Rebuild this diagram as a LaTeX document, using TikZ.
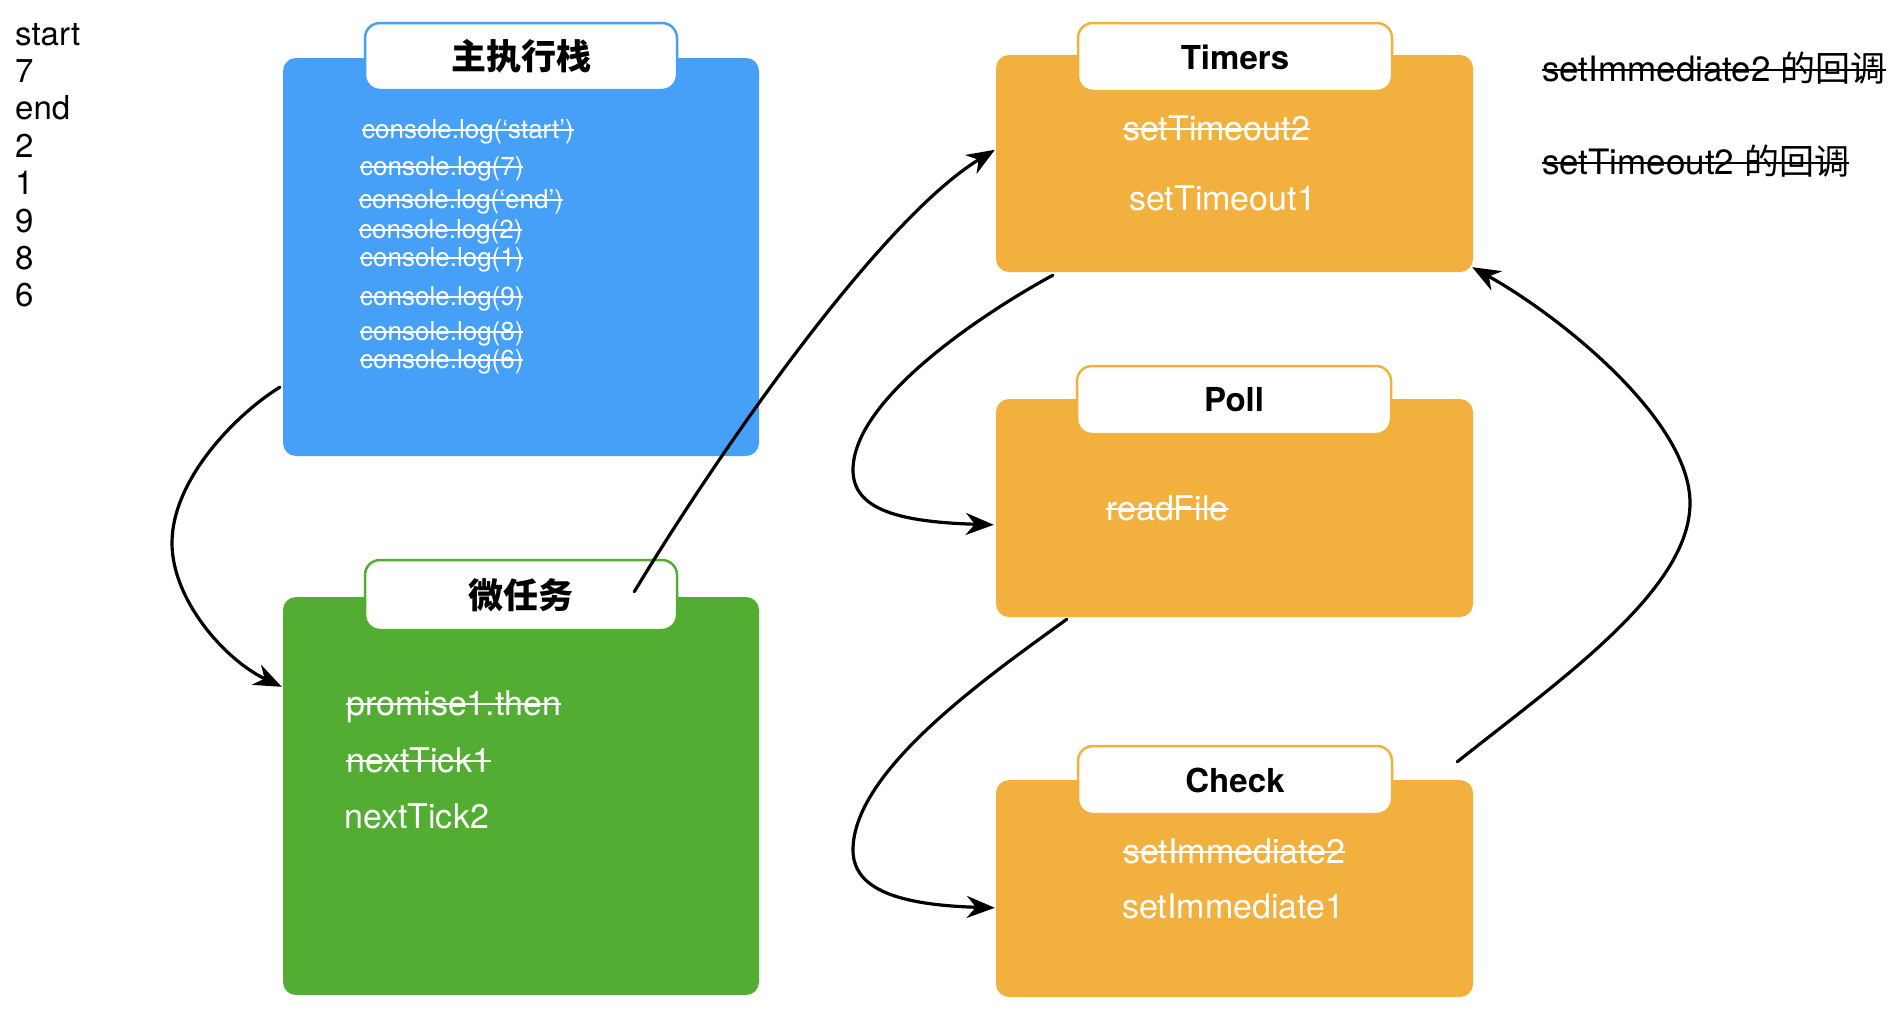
\documentclass[tikz,border=0pt]{standalone}
\usepackage{fontspec}
\setmainfont{TeX Gyre Heros}
\newfontfamily\cjk{Noto Sans CJK SC}
\usetikzlibrary{arrows.meta}
\definecolor{jsblue}{HTML}{46A0F8}
\definecolor{jsgreen}{HTML}{54AD33}
\definecolor{jsorange}{HTML}{F2B03E}
\newsavebox\strkbox
\newcommand\strike[1]{\sbox\strkbox{#1}\rlap{\usebox\strkbox}\rule[0.28em]{\wd\strkbox}{0.065em}}
\begin{document}
\begin{tikzpicture}[x=1pt,y=-1pt,
  box/.style={rectangle, rounded corners=13pt, inner sep=0pt, minimum width=477pt},
  tab/.style={rectangle, rounded corners=15pt, fill=white, line width=2.5pt, inner sep=0pt,
    minimum width=314pt, minimum height=68pt, font=\fontsize{33}{40}\selectfont\bfseries},
  cjkhead/.style={font=\fontsize{35}{40}\selectfont\cjk\bfseries},
  txt/.style={anchor=base west, inner sep=0pt, text=white, font=\fontsize{34}{40}\selectfont},
  small/.style={txt, font=\fontsize{26}{30}\selectfont},
  note/.style={anchor=base west, inner sep=0pt, text=black, font=\fontsize{35}{40}\selectfont},
  outlist/.style={anchor=base west, inner sep=0pt, font=\fontsize{33}{38}\selectfont},
  arr/.style={line width=3.2pt, line cap=round, draw=black,
    -{Stealth[length=28pt,width=22pt,inset=9pt]}}]
\fill[white] (0,0) rectangle (1892,1012);
\useasboundingbox (0,0) rectangle (1892,1012);

% output list
\foreach \t [count=\i] in {start,7,end,2,1,9,8,6}
  \node[outlist] (out\i) at (15,{45+(\i-1)*37.4}) {\t};

% boxes
\node[box, fill=jsblue, minimum width=476pt, minimum height=398pt] (main) at (521,257) {};
\node[box, fill=jsgreen, minimum width=476pt, minimum height=398pt] (micro) at (521,796) {};
\node[box, fill=jsorange, minimum height=217pt] (timers) at (1234.5,163.5) {};
\node[box, fill=jsorange, minimum height=218pt] (poll) at (1234.5,508) {};
\node[box, fill=jsorange, minimum height=217pt] (check) at (1234.5,888.5) {};

% tabs
\node[tab, cjkhead, draw=jsblue, minimum width=312pt, minimum height=67pt] (mainTab) at (521,56.5) {主执行栈};
\node[tab, cjkhead, draw=jsgreen, minimum width=312pt, minimum height=70pt] (microTab) at (521,595) {微任务};
\node[tab, draw=jsorange] (timersTab) at (1235,57) {Timers};
\node[tab, draw=jsorange] (pollTab) at (1234,400) {Poll};
\node[tab, draw=jsorange] (checkTab) at (1235,780) {Check};

% main stack texts
\node[small] (m1) at (362,138) {\strike{console.log(‘start’)}};
\node[small] (m2) at (360,175) {\strike{console.log(7)}};
\node[small] (m3) at (359,208) {\strike{console.log(‘end’)}};
\node[small] (m4) at (359,238) {\strike{console.log(2)}};
\node[small] (m5) at (360,266) {\strike{console.log(1)}};
\node[small] (m6) at (360,305) {\strike{console.log(9)}};
\node[small] (m7) at (360,340) {\strike{console.log(8)}};
\node[small] (m8) at (360,368) {\strike{console.log(6)}};

% micro tasks
\node[txt] (p1) at (346,715) {\strike{promise1.then}};
\node[txt] (n1) at (346,772) {\strike{nextTick1}};
\node[txt] (n2) at (344,828) {nextTick2};

% timers
\node[txt] (st2) at (1123,140) {\strike{setTimeout2}};
\node[txt] (st1) at (1129,210) {setTimeout1};
% poll
\node[txt] (rf) at (1106,520) {\strike{readFile}};
% check
\node[txt] (si2) at (1123,863) {\strike{setImmediate2}};
\node[txt] (si1) at (1122,918) {setImmediate1};

% notes
\node[note] (note1) at (1542,81) {\strike{setImmediate2 {\cjk 的回调}}};
\node[note] (note2) at (1542,174) {\strike{setTimeout2 {\cjk 的回调}}};

% arrows
\draw[arr] ([shift={(-3,-69)}]main.south west) .. controls (235,415) and (172,480) .. (172,543)
  .. controls (172,600) and (225,660) .. ([shift={(-1,90)}]micro.north west);
\draw[arr] ([shift={(-44,33)}]microTab.north east) .. controls (720,450) and (880,220) .. ([shift={(-1,95)}]timers.north west);
\draw[arr] ([shift={(57,3)}]timers.south west) .. controls (980,315) and (853,400) .. (853,470)
  .. controls (853,510) and (900,522) .. ([shift={(-2,126)}]poll.north west);
\draw[arr] ([shift={(71,2)}]poll.south west) .. controls (990,675) and (853,770) .. (853,850)
  .. controls (853,890) and (900,905) .. ([shift={(-1,128)}]check.north west);
\draw[arr] ([shift={(-16,-18)}]check.north east) .. controls (1560,680) and (1690,590) .. (1690,503)
  .. controls (1690,420) and (1560,316) .. ([shift={(-1,-5)}]timers.south east);
\end{tikzpicture}
\end{document}
